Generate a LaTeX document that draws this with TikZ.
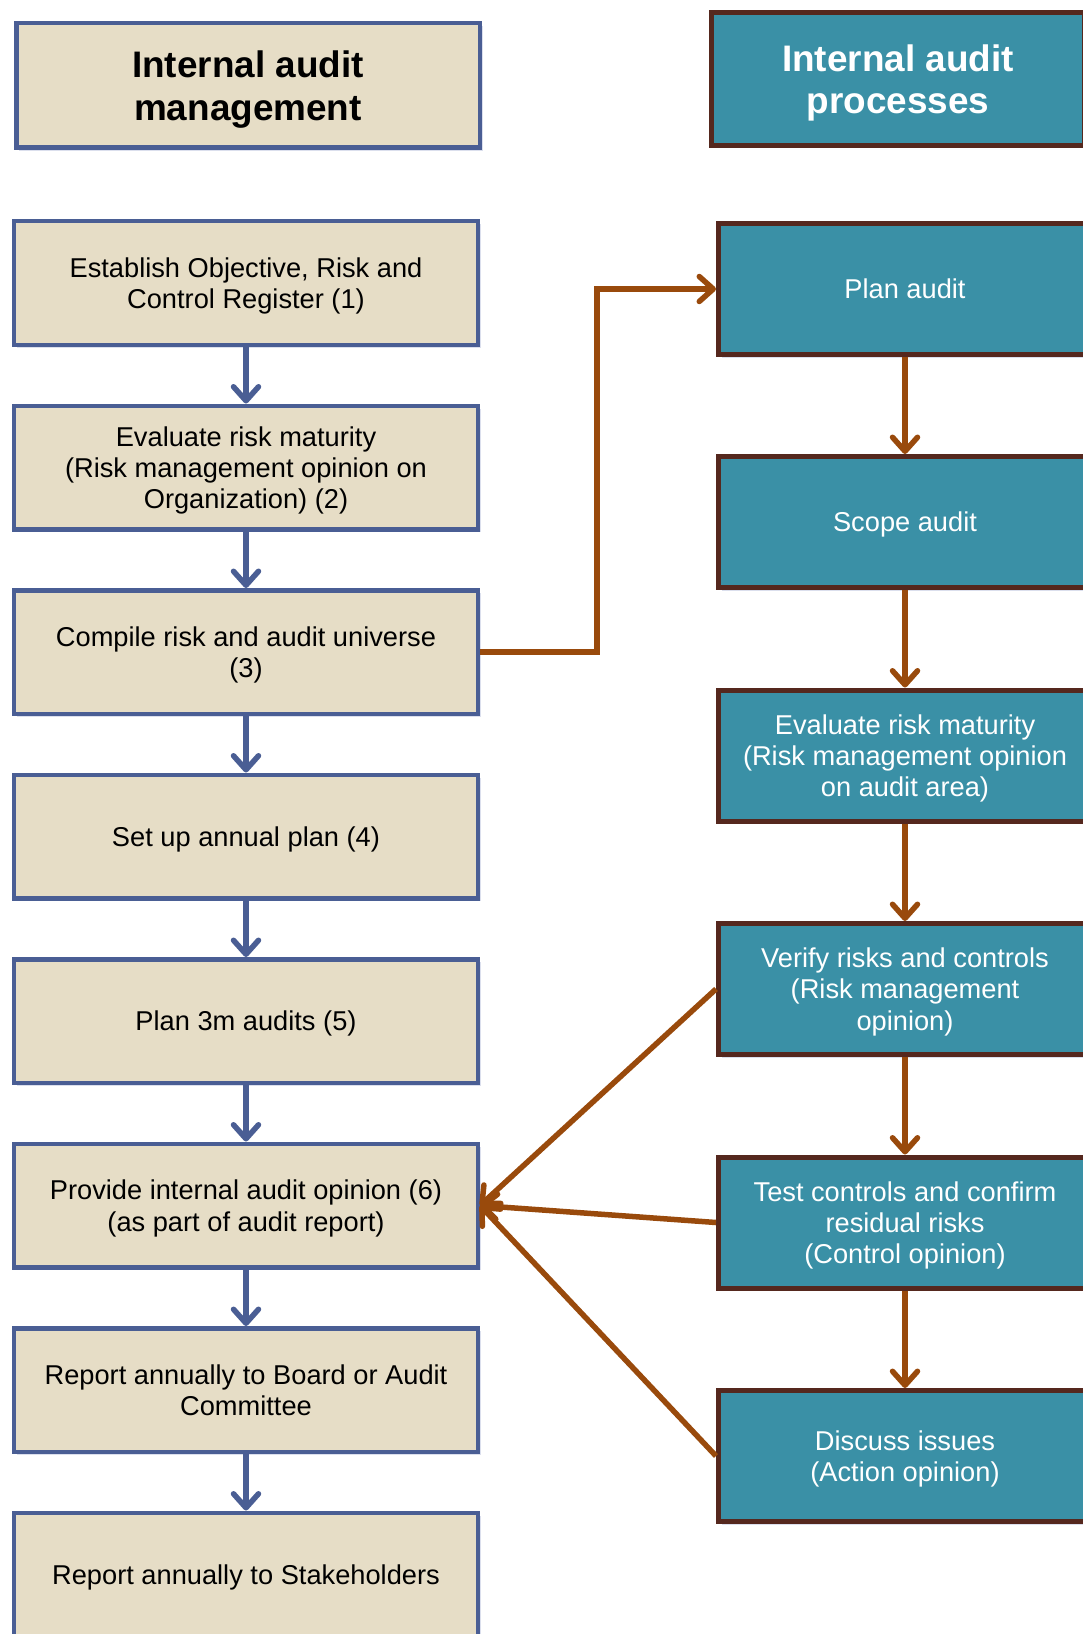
\documentclass[tikz,border=0pt]{standalone}
\usepackage{fontspec}
\setmainfont{Liberation Sans}
\usetikzlibrary{positioning, arrows.meta, shadows}
\definecolor{mgmtfill}{RGB}{230,221,198}
\definecolor{mgmtline}{RGB}{74,94,148}
\definecolor{procfill}{RGB}{58,144,166}
\definecolor{procline}{RGB}{85,40,30}
\definecolor{linkbrown}{RGB}{153,74,12}
\definecolor{shadowblue}{RGB}{175,185,215}
\tikzset{
  mgmtbox/.style={rectangle, minimum width=9.27cm, minimum height=2.47cm, align=center, text depth=0pt, draw=mgmtline, line width=0.09cm, fill=mgmtfill, text=black, font=\fontsize{15.5}{17.8}\selectfont, drop shadow={shadow xshift=0.06cm, shadow yshift=-0.06cm, fill=shadowblue, opacity=0.45}},
  mgmthead/.style={mgmtbox, minimum height=2.49cm, font=\fontsize{21}{24.3}\selectfont\bfseries},
  procbox/.style={rectangle, minimum width=7.46cm, minimum height=2.62cm, align=center, text depth=0pt, draw=procline, line width=0.1cm, fill=procfill, text=white, font=\fontsize{15.5}{17.8}\selectfont, drop shadow={shadow xshift=0.06cm, shadow yshift=-0.06cm, fill=shadowblue, opacity=0.45}},
  prochead/.style={procbox, minimum height=2.66cm, font=\fontsize{21}{24.3}\selectfont\bfseries},
  mgmtarrow/.style={draw=mgmtline, line width=0.11cm, -{Straight Barb[length=0.28cm, width=0.5cm, round]}},
  procarrow/.style={draw=linkbrown, line width=0.11cm, -{Straight Barb[length=0.28cm, width=0.5cm, round]}}
}

\begin{document}
\begin{tikzpicture}
    \useasboundingbox (0,0) rectangle (21.66,-32.68);
    \clip (0,0) rectangle (21.66,-32.68);

    % 1. Column headers
    \node[mgmthead] (Mhead) at (4.96, -1.71) {Internal audit\\management};
    \node[prochead] (Phead) at (17.96, -1.58) {Internal audit\\processes};

    % 2. Internal audit management (left column)
    \node[mgmtbox] (M1) at (4.92, -5.66) {Establish Objective, Risk and\\Control Register (1)};
    \node[mgmtbox] (M2) at (4.92, -9.35) {Evaluate risk maturity\\(Risk management opinion on\\Organization) (2)};
    \node[mgmtbox] (M3) at (4.92, -13.04) {Compile risk and audit universe\\(3)};
    \node[mgmtbox] (M4) at (4.92, -16.73) {Set up annual plan (4)};
    \node[mgmtbox] (M5) at (4.92, -20.42) {Plan 3m audits (5)};
    \node[mgmtbox] (M6) at (4.92, -24.11) {Provide internal audit opinion (6)\\(as part of audit report)};
    \node[mgmtbox] (M7) at (4.92, -27.80) {Report annually to Board or Audit\\Committee};
    \node[mgmtbox] (M8) at (4.92, -31.49) {Report annually to Stakeholders};

    % 3. Internal audit processes (right column)
    \node[procbox] (P1) at (18.10, -5.78) {Plan audit};
    \node[procbox] (P2) at (18.10, -10.44) {Scope audit};
    \node[procbox] (P3) at (18.10, -15.11) {Evaluate risk maturity\\(Risk management opinion\\on audit area)};
    \node[procbox] (P4) at (18.10, -19.78) {Verify risks and controls\\(Risk management\\opinion)};
    \node[procbox] (P5) at (18.10, -24.45) {Test controls and confirm\\residual risks\\(Control opinion)};
    \node[procbox] (P6) at (18.10, -29.12) {Discuss issues\\(Action opinion)};

    % 4. Connectors down each column
    \foreach \a/\b in {M1/M2, M2/M3, M3/M4, M4/M5, M5/M6, M6/M7, M7/M8}
        \draw[mgmtarrow] (\a.south) -- (\b.north);
    \foreach \a/\b in {P1/P2, P2/P3, P3/P4, P4/P5, P5/P6}
        \draw[procarrow] (\a.south) -- (\b.north);

    % 5. Links between the two columns
    \draw[procarrow] (M3.east) -- ++(2.34,0) |- (P1.west);
    \draw[procarrow] (P4.west) -- (M6.east);
    \draw[procarrow] (P5.west) -- (M6.east);
    \draw[procarrow] (P6.west) -- (M6.east);

\end{tikzpicture}
\end{document}
